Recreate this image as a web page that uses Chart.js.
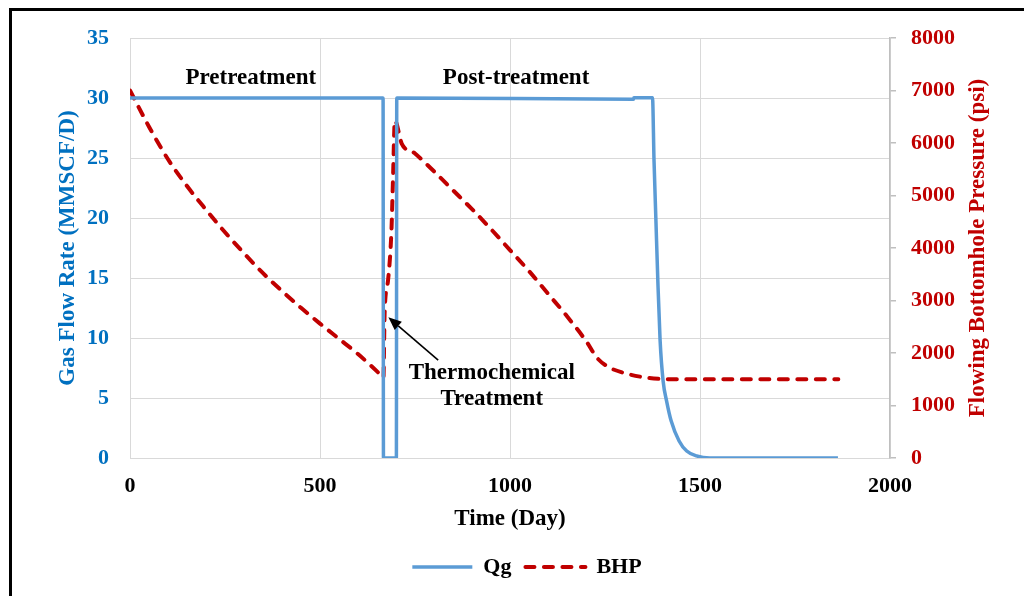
<!DOCTYPE html>
<html><head><meta charset="utf-8">
<script src="https://cdn.jsdelivr.net/npm/chart.js@4.4.1/dist/chart.umd.min.js"></script>
<style>html,body{margin:0;padding:0;background:#fff;overflow:hidden}</style>
</head><body>
<canvas id="c" width="1024" height="596"></canvas>
<script>
// ---- data ----
const qgDays   = [0, 666, 667, 701, 702, 1325, 1326, 1375, 1379, 1384, 1389, 1395, 1403, 1412, 1424, 1445, 1465, 1491, 1526, 1863];
const qgValues = [30, 30, 0, 0, 30, 29.9, 30.02, 30.02, 24.8, 19.8, 14.8, 9.8, 6.4, 4.76, 3.1, 1.42, 0.58, 0.17, 0, 0];
const bhpDays   = [0, 50, 100, 150, 200, 250, 300, 350, 400, 450, 500, 550, 600, 650, 667, 670, 679, 688, 692, 697, 715, 750, 800, 850, 900, 950, 1000, 1050, 1100, 1150, 1200, 1230, 1260, 1300, 1350, 1400, 1450, 1864];
const bhpValues = [7000, 6310, 5690, 5180, 4730, 4300, 3900, 3520, 3180, 2860, 2560, 2270, 1980, 1650, 1530, 2750, 3380, 4330, 5290, 6430, 5990, 5800, 5460, 5100, 4740, 4360, 3960, 3560, 3130, 2700, 2230, 1900, 1730, 1620, 1540, 1505, 1500, 1500];
const seriesNames = ['Qg', 'BHP'];
const xTitle = 'Time (Day)';
const yLeftTitle = 'Gas Flow Rate (MMSCF/D)';
const yRightTitle = 'Flowing Bottomhole Pressure (psi)';
const xRange = [0, 2000, 500];
const yLeftRange = [0, 35, 5];
const yRightRange = [0, 8000, 1000];
const notes = [
  {text: 'Pretreatment', day: 318, q: 31.66},
  {text: 'Post-treatment', day: 1016, q: 31.66},
  {text: 'Thermochemical', day: 952, q: 7.1},
  {text: 'Treatment', day: 952, q: 4.89}
];
const arrowNote = {fromDay: 811, fromQ: 8.16, toDay: 680, toQ: 11.72};

const FONT = "'Liberation Serif', 'Times New Roman', serif";
const BLUE = '#0070C0', RED = '#C00000', LINEBLUE = '#5B9BD5';
const GRID = '#d9d9d9';

const toXY = (xs, ys) => xs.map((x, i) => ({x, y: ys[i]}));
const plain = v => String(v);

const framePlugin = {
  id: 'frame',
  beforeDraw(chart) {
    const ctx = chart.ctx;
    ctx.save();
    ctx.fillStyle = '#fff';
    ctx.fillRect(0, 0, chart.width, chart.height);
    ctx.strokeStyle = '#000';
    ctx.lineWidth = 3;
    ctx.beginPath();
    ctx.moveTo(10.5, chart.height + 5);
    ctx.lineTo(10.5, 9.5);
    ctx.lineTo(chart.width + 5, 9.5);
    ctx.stroke();
    ctx.restore();
  },
  afterDatasetsDraw(chart) {
    const ctx = chart.ctx, xs = chart.scales.x, ys = chart.scales.y;
    ctx.save();
    ctx.fillStyle = '#000';
    ctx.font = 'bold 23px ' + FONT;
    ctx.textAlign = 'center';
    ctx.textBaseline = 'middle';
    notes.forEach(n => ctx.fillText(n.text, xs.getPixelForValue(n.day), ys.getPixelForValue(n.q)));
    const x1 = xs.getPixelForValue(arrowNote.fromDay), y1 = ys.getPixelForValue(arrowNote.fromQ);
    const x2 = xs.getPixelForValue(arrowNote.toDay), y2 = ys.getPixelForValue(arrowNote.toQ);
    const ang = Math.atan2(y2 - y1, x2 - x1);
    const hl = 13, hw = 5.5;
    const bx = x2 - hl * Math.cos(ang), by = y2 - hl * Math.sin(ang);
    ctx.strokeStyle = '#000';
    ctx.lineWidth = 1.6;
    ctx.beginPath(); ctx.moveTo(x1, y1); ctx.lineTo(bx, by); ctx.stroke();
    ctx.beginPath();
    ctx.moveTo(x2, y2);
    ctx.lineTo(bx + hw * Math.sin(ang), by - hw * Math.cos(ang));
    ctx.lineTo(bx - hw * Math.sin(ang), by + hw * Math.cos(ang));
    ctx.closePath(); ctx.fill();
    ctx.restore();
  },
  afterDraw(chart) {
    const ctx = chart.ctx, a = chart.chartArea;
    ctx.save();
    ctx.fillStyle = RED;
    ctx.font = 'bold 23px ' + FONT;
    ctx.textAlign = 'center';
    ctx.textBaseline = 'middle';
    ctx.translate(978, (a.top + a.bottom) / 2);
    ctx.rotate(-Math.PI / 2);
    ctx.fillText(yRightTitle, 0, 0);
    ctx.restore();
  }
};

new Chart(document.getElementById('c'), {
  type: 'line',
  data: {
    datasets: [
      {label: seriesNames[0], data: toXY(qgDays, qgValues), yAxisID: 'y',
       borderColor: LINEBLUE, backgroundColor: LINEBLUE, borderWidth: 3.5,
       pointRadius: 0, cubicInterpolationMode: 'monotone', borderJoinStyle: 'round'},
      {label: seriesNames[1], data: toXY(bhpDays, bhpValues), yAxisID: 'y1',
       borderColor: RED, backgroundColor: RED, borderWidth: 4,
       borderDash: [9, 9.5], borderCapStyle: 'round', borderJoinStyle: 'round',
       pointRadius: 0, cubicInterpolationMode: 'monotone'}
    ]
  },
  options: {
    responsive: false,
    animation: false,
    devicePixelRatio: 1,
    layout: {padding: {left: 30, right: 0, top: 38, bottom: 8}},
    plugins: {
      legend: {
        position: 'bottom',
        labels: {
          usePointStyle: true, pointStyle: 'line', pointStyleWidth: 60,
          color: '#000', padding: 14,
          font: {family: FONT, size: 22, weight: 'bold'},
          generateLabels(chart) {
            const items = Chart.defaults.plugins.legend.labels.generateLabels(chart);
            items.forEach((it, i) => {
              const ds = chart.data.datasets[i];
              it.lineDash = ds.borderDash || [];
              it.lineWidth = ds.borderWidth;
              it.strokeStyle = ds.borderColor;
              it.lineCap = ds.borderCapStyle || 'butt';
              it.pointStyle = 'line';
            });
            return items;
          }
        }
      },
      tooltip: {enabled: false}
    },
    scales: {
      x: {
        type: 'linear', min: xRange[0], max: xRange[1],
        afterFit(s) { s.height = 84; },
        ticks: {stepSize: xRange[2], color: '#000', padding: 15, maxRotation: 0, callback: plain,
                font: {family: FONT, size: 22, weight: 'bold'}},
        grid: {color: GRID, drawTicks: false},
        border: {color: GRID},
        title: {display: true, text: xTitle, color: '#000', padding: {top: 0, bottom: 9},
                font: {family: FONT, size: 23, weight: 'bold'}}
      },
      y: {
        position: 'left', min: yLeftRange[0], max: yLeftRange[1],
        afterFit(s) { s.width = 100; },
        ticks: {stepSize: yLeftRange[2], color: BLUE, padding: 21, callback: plain,
                font: {family: FONT, size: 22, weight: 'bold'}},
        grid: {color: GRID, drawTicks: false},
        border: {color: GRID},
        title: {display: true, text: yLeftTitle, color: BLUE, padding: {top: 24, bottom: 0},
                font: {family: FONT, size: 23, weight: 'bold'}}
      },
      y1: {
        position: 'right', min: yRightRange[0], max: yRightRange[1],
        afterFit(s) { s.width = 134; },
        ticks: {stepSize: yRightRange[2], color: RED, padding: 15, callback: plain,
                font: {family: FONT, size: 22, weight: 'bold'}},
        grid: {drawOnChartArea: false, drawTicks: true, tickLength: 6, color: '#bfbfbf', lineWidth: 1.5},
        border: {color: '#bfbfbf', width: 1.5}
      }
    }
  },
  plugins: [framePlugin]
});
</script>
</body></html>
